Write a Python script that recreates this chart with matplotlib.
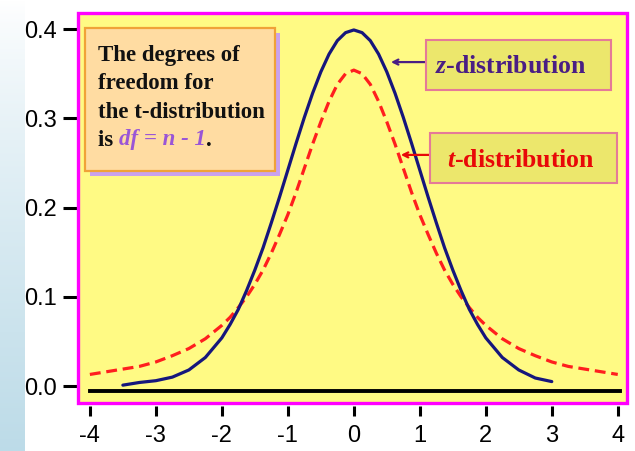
import numpy as np
import matplotlib
matplotlib.use('Agg')
import matplotlib.pyplot as plt
from matplotlib.patches import Rectangle

plt.rcParams['axes.unicode_minus'] = False
plt.rcParams['mathtext.fontset'] = 'custom'
plt.rcParams['mathtext.it'] = 'Liberation Serif:bold:italic'
plt.rcParams['mathtext.rm'] = 'Liberation Serif:bold'

# z-distribution curve
z_x = [-3.5, -3.25, -3.0, -2.75, -2.5, -2.25, -2.0, -1.875, -1.75, -1.625,
       -1.5, -1.375, -1.25, -1.125, -1.0, -0.875, -0.75, -0.625, -0.5, -0.375,
       -0.25, -0.125, 0.0, 0.125, 0.25, 0.375, 0.5, 0.625, 0.75, 0.875, 1.0,
       1.125, 1.25, 1.375, 1.5, 1.625, 1.75, 1.875, 2.0, 2.25, 2.5, 2.75, 3.0]
z_y = [0.001, 0.004, 0.006, 0.010, 0.018, 0.032, 0.054, 0.069, 0.086, 0.107,
       0.130, 0.155, 0.183, 0.212, 0.242, 0.272, 0.301, 0.328, 0.352, 0.372,
       0.387, 0.396, 0.399, 0.396, 0.387, 0.372, 0.352, 0.328, 0.301, 0.272,
       0.242, 0.212, 0.183, 0.155, 0.130, 0.107, 0.086, 0.069, 0.054, 0.032,
       0.018, 0.009, 0.005]

# t-distribution curve (dashed)
t_x = [-4.0, -3.75, -3.5, -3.25, -3.0, -2.75, -2.5, -2.25, -2.0, -1.875,
       -1.75, -1.625, -1.5, -1.375, -1.25, -1.125, -1.0, -0.875, -0.75, -0.625,
       -0.5, -0.375, -0.25, -0.125, 0.0, 0.125, 0.25, 0.375, 0.5, 0.625, 0.75,
       0.875, 1.0, 1.125, 1.25, 1.375, 1.5, 1.625, 1.75, 1.875, 2.0, 2.25, 2.5,
       2.75, 3.0, 3.25, 3.5, 3.75, 4.0]
t_y = [0.013, 0.016, 0.019, 0.022, 0.027, 0.034, 0.042, 0.053, 0.068, 0.077,
       0.088, 0.100, 0.114, 0.130, 0.149, 0.170, 0.192, 0.217, 0.244, 0.271,
       0.296, 0.319, 0.338, 0.350, 0.354, 0.350, 0.338, 0.319, 0.296, 0.271,
       0.244, 0.217, 0.192, 0.170, 0.149, 0.130, 0.114, 0.100, 0.088, 0.077,
       0.068, 0.053, 0.042, 0.034, 0.027, 0.022, 0.019, 0.016, 0.013]

x_ticks = [-4, -3, -2, -1, 0, 1, 2, 3, 4]
y_ticks = [0.0, 0.1, 0.2, 0.3, 0.4]
base_y = -0.006

W, H = 635, 451
fig = plt.figure(figsize=(W / 100, H / 100), dpi=100)


def fx(x):
    return x / W


def fy(y):
    return 1 - y / H


# light blue strip on the left edge
bg = fig.add_axes([0, 0, 25 / W, 1], zorder=-5)
grad = np.linspace(0, 1, 200).reshape(-1, 1)
top = np.array([1.0, 1.0, 1.0])
bot = np.array([0.74, 0.86, 0.91])
img = top + (bot - top) * grad[..., None] ** 0.8
bg.imshow(img, aspect='auto', extent=[0, 1, 0, 1], origin='upper')
bg.axis('off')

ax = fig.add_axes([fx(78), fy(403), (627 - 78) / W, (403 - 13) / H])
ax.set_facecolor('#FFFA84')

ax.plot(t_x, t_y, color='#FF1E1E', lw=2.3, dashes=(3.4, 1.8), zorder=3)
ax.plot(z_x, z_y, color='#16167C', lw=2.3, zorder=4, solid_capstyle='round')
ax.plot([-4, 4.04], [base_y, base_y], color='black', lw=2.8, zorder=2)

ax.set_xlim(-4.18, 4.14)
ax.set_ylim(-0.019, 0.418)
ax.set_xticks(x_ticks)
ax.set_xticklabels([str(v) for v in x_ticks])
ax.set_yticks(y_ticks)
ax.set_yticklabels(['%.1f' % v for v in y_ticks])

for s in ['top', 'right', 'left']:
    ax.spines[s].set_visible(False)
ax.spines['bottom'].set_position(('outward', 2.5))
ax.spines['bottom'].set_visible(False)
ax.add_patch(Rectangle((0, 0), 1, 1, transform=ax.transAxes, fill=False,
                       edgecolor='#FF00FF', lw=2.4, clip_on=False, zorder=10))

ax.tick_params(axis='y', direction='out', length=11, width=2.2, pad=4,
               labelsize=17, color='black')
ax.tick_params(axis='x', direction='out', length=7, width=2.2, pad=6,
               labelsize=17, color='black')
for lab in ax.get_xticklabels() + ax.get_yticklabels():
    lab.set_fontfamily('Liberation Sans')

# note box with shadow
fig.add_artist(Rectangle((fx(90), fy(176)), (275 - 85) / W, (171 - 28) / H,
                         transform=fig.transFigure, facecolor='#C9A2EE',
                         edgecolor='none'))
fig.add_artist(Rectangle((fx(85), fy(171)), (275 - 85) / W, (171 - 28) / H,
                         transform=fig.transFigure, facecolor='#FFDCA2',
                         edgecolor='#F0A238', lw=1.6))
serif = dict(family='Liberation Serif', fontweight='bold', fontsize=16.5)
fig.text(fx(98), fy(61.5), 'The degrees of', color='#111111', **serif)
fig.text(fx(98), fy(89), 'freedom for', color='#111111', **serif)
fig.text(fx(98), fy(117.5), 'the t-distribution', color='#111111', **serif)
t1 = fig.text(fx(98), fy(145.5), 'is ', color='#111111', **serif)
t2 = fig.text(fx(98), fy(145.5), 'df = n - 1', color='#9A55D6',
              style='italic', **serif)
t3 = fig.text(fx(98), fy(145.5), '.', color='#111111', **serif)
fig.canvas.draw()
r = fig.canvas.get_renderer()
x0 = t1.get_window_extent(r).x1
t2.set_x(x0 / W)
t3.set_x(t2.get_window_extent(r).x1 / W)

# label boxes
fig.add_artist(Rectangle((fx(426), fy(90)), (611 - 426) / W, (90 - 40) / H,
                         transform=fig.transFigure, facecolor='#ECE76C',
                         edgecolor='#E57A98', lw=1.5))
fig.add_artist(Rectangle((fx(430), fy(183)), (617 - 430) / W, (183 - 133) / H,
                         transform=fig.transFigure, facecolor='#ECE76C',
                         edgecolor='#E57A98', lw=1.5))
lab = dict(family='Liberation Serif', fontweight='bold', fontsize=18.5)
fig.text(fx(435), fy(73), r'$z$-distribution', color='#4A1E84', **lab)
fig.text(fx(447), fy(167), r'$t$-distribution', color='#E80808', **lab)

ax.annotate('', xy=(0.52, 0.363), xytext=(1.15, 0.363),
            arrowprops=dict(arrowstyle='->', color='#4A1E84', lw=1.6,
                            mutation_scale=9), zorder=6)
ax.annotate('', xy=(0.67, 0.259), xytext=(1.30, 0.259),
            arrowprops=dict(arrowstyle='->', color='#E80808', lw=1.6,
                            mutation_scale=9), zorder=6)

fig.savefig('out.png', dpi=100)
